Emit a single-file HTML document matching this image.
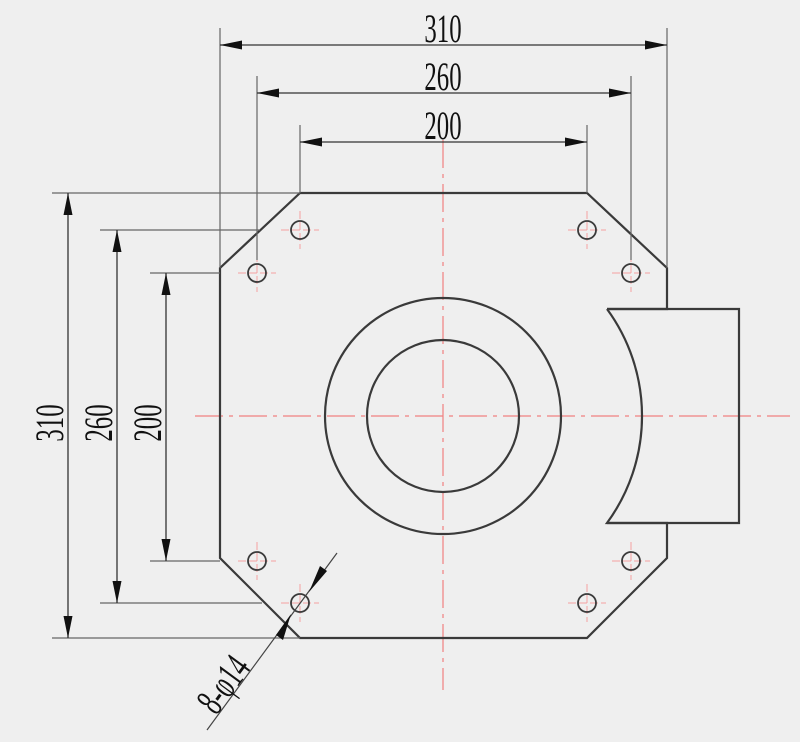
<!DOCTYPE html>
<html><head><meta charset="utf-8"><style>
html,body{margin:0;padding:0;background:#efefef;}
svg{display:block;}
text{font-family:"Liberation Serif",serif;fill:#111;}
</style></head><body>
<svg width="800" height="742" viewBox="0 0 800 742" xmlns="http://www.w3.org/2000/svg">
<rect width="800" height="742" fill="#efefef"/>
<defs>
<marker id="a" markerWidth="22" markerHeight="9" refX="22" refY="4.5" orient="auto" markerUnits="userSpaceOnUse"><path d="M0,0 L22,4.5 L0,9 Z" fill="#111"/></marker>
</defs>
<g stroke="#f08080" stroke-width="1.2" fill="none" stroke-dasharray="28,6,4,6">
<line x1="443" y1="140" x2="443" y2="690"/>
<line x1="195" y1="416" x2="790" y2="416"/>
</g>
<g stroke="#f4a0a0" stroke-width="1" stroke-dasharray="8,3">
<line x1="281" y1="230" x2="319" y2="230"/><line x1="300" y1="211" x2="300" y2="249"/>
<line x1="568" y1="230" x2="606" y2="230"/><line x1="587" y1="211" x2="587" y2="249"/>
<line x1="238" y1="273" x2="276" y2="273"/><line x1="257" y1="254" x2="257" y2="292"/>
<line x1="612" y1="273" x2="650" y2="273"/><line x1="631" y1="254" x2="631" y2="292"/>
<line x1="238" y1="561" x2="276" y2="561"/><line x1="257" y1="542" x2="257" y2="580"/>
<line x1="612" y1="561" x2="650" y2="561"/><line x1="631" y1="542" x2="631" y2="580"/>
<line x1="281" y1="603" x2="319" y2="603"/><line x1="300" y1="584" x2="300" y2="622"/>
<line x1="568" y1="603" x2="606" y2="603"/><line x1="587" y1="584" x2="587" y2="622"/>
</g>
<g stroke="#3a3a3a" stroke-width="2.2" fill="none">
<path d="M607 309 L667 309 L667 268 L587 193 L300 193 L220 268 L220 558 L300 638 L587 638 L667 558 L667 523 L607 523"/>
<path d="M607 309 L739 309 L739 523 L607 523 A181 181 0 0 0 607 309"/>
<circle cx="443" cy="416" r="118"/>
<circle cx="443" cy="416" r="76"/>
</g>
<g stroke="#3a3a3a" stroke-width="1.8" fill="none">
<circle cx="300" cy="230" r="9"/><circle cx="587" cy="230" r="9"/>
<circle cx="257" cy="273" r="9"/><circle cx="631" cy="273" r="9"/>
<circle cx="257" cy="561" r="9"/><circle cx="631" cy="561" r="9"/>
<circle cx="300" cy="603" r="9"/><circle cx="587" cy="603" r="9"/>
</g>
<g stroke="#666" stroke-width="1.2">
<line x1="220" y1="28" x2="220" y2="268"/><line x1="667" y1="28" x2="667" y2="268"/>
<line x1="257" y1="76" x2="257" y2="260"/><line x1="631" y1="76" x2="631" y2="260"/>
<line x1="300" y1="125" x2="300" y2="193"/><line x1="587" y1="125" x2="587" y2="193"/>
<line x1="52" y1="193" x2="300" y2="193"/><line x1="100" y1="230" x2="260" y2="230"/><line x1="150" y1="273" x2="220" y2="273"/>
<line x1="150" y1="561" x2="220" y2="561"/><line x1="100" y1="603" x2="262" y2="603"/><line x1="52" y1="638" x2="300" y2="638"/>
</g>
<g stroke="#333" stroke-width="1.3" marker-end="url(#a)">
<line x1="443" y1="45" x2="220" y2="45"/><line x1="443" y1="45" x2="667" y2="45"/>
<line x1="443" y1="93" x2="257" y2="93"/><line x1="443" y1="93" x2="631" y2="93"/>
<line x1="443" y1="142" x2="300" y2="142"/><line x1="443" y1="142" x2="587" y2="142"/>
<line x1="68" y1="416" x2="68" y2="193"/><line x1="68" y1="416" x2="68" y2="638"/>
<line x1="117" y1="416" x2="117" y2="230"/><line x1="117" y1="416" x2="117" y2="603"/>
<line x1="166" y1="416" x2="166" y2="273"/><line x1="166" y1="416" x2="166" y2="561"/>
</g>
<line x1="337" y1="553" x2="207" y2="730" stroke="#444" stroke-width="1.2"/>
<path d="M309 592 L320 566 L327 571 Z" fill="#111"/>
<path d="M291 614 L283 640 L276 635 Z" fill="#111"/>
<g font-size="40" text-anchor="middle">
<text transform="translate(443,42) scale(0.62,1)">310</text>
<text transform="translate(443,90) scale(0.62,1)">260</text>
<text transform="translate(443,139) scale(0.62,1)">200</text>
<text transform="translate(63,423) rotate(-90) scale(0.62,1)">310</text>
<text transform="translate(112,423) rotate(-90) scale(0.62,1)">260</text>
<text transform="translate(161,423) rotate(-90) scale(0.62,1)">200</text>
<text transform="translate(234,692) rotate(-53.7) scale(0.62,1)">8-φ14</text>
</g>
</svg>
</body></html>
